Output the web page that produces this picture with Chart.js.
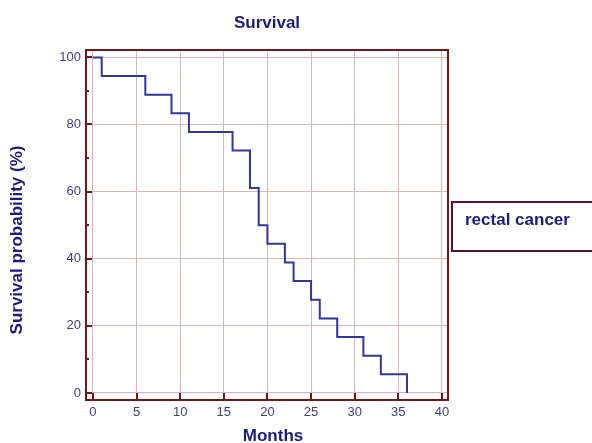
<!DOCTYPE html>
<html>
<head>
<meta charset="utf-8">
<script src="https://cdn.jsdelivr.net/npm/chart.js@4.4.1/dist/chart.umd.min.js"></script>
<style>
    html, body { margin: 0; padding: 0; background: #ffffff; }
    #wrap { width: 592px; height: 443px; position: relative; }
</style>
</head>
<body>
<div id="wrap"><canvas id="chart"></canvas></div>
<script>
// Kaplan-Meier steps
const months = [0, 1, 6, 9, 11, 16, 18, 19, 20, 22, 23, 25, 26, 28, 31, 33, 36];
const survival = [100, 94.44, 88.89, 83.33, 77.78, 72.22, 61.11, 50, 44.44, 38.89, 33.33, 27.78, 22.22, 16.67, 11.11, 5.56, 0];

const xTicks = [0, 5, 10, 15, 20, 25, 30, 35, 40];
const yTicks = [0, 20, 40, 60, 80, 100];
const yMinorTicks = [10, 30, 50, 70, 90];

const chartTitle = 'Survival';
const xTitle = 'Months';
const yTitle = 'Survival probability (%)';
const legendLabel = 'rectal cancer';

const FONT = 'Arial, "Liberation Sans", sans-serif';
const navy = '#1c1c80';
const frameColor = '#7b1416';
const gridColor = '#d9b5b5';

// Frame, inward ticks, titles and the legend box
const decorPlugin = {
    id: 'decor',
    afterDraw(chart) {
        const ctx = chart.ctx;
        const area = chart.chartArea;
        const xs = chart.scales.x;
        const ys = chart.scales.y;
        ctx.save();

        // inward tick marks
        ctx.strokeStyle = frameColor;
        ctx.lineWidth = 2;
        ctx.beginPath();
        xTicks.forEach(v => {
            const px = Math.round(xs.getPixelForValue(v));
            ctx.moveTo(px, area.bottom);
            ctx.lineTo(px, area.bottom - 7);
        });
        yTicks.forEach(v => {
            const py = Math.round(ys.getPixelForValue(v));
            ctx.moveTo(area.left, py);
            ctx.lineTo(area.left + 6, py);
        });
        yMinorTicks.forEach(v => {
            const py = Math.round(ys.getPixelForValue(v));
            ctx.moveTo(area.left, py);
            ctx.lineTo(area.left + 3, py);
        });
        ctx.stroke();

        // plot frame
        ctx.strokeRect(area.left, area.top, area.right - area.left, area.bottom - area.top);

        // texts
        ctx.fillStyle = navy;
        ctx.font = 'bold 17px ' + FONT;
        ctx.textAlign = 'center';
        ctx.textBaseline = 'alphabetic';
        ctx.fillText(chartTitle, (area.left + area.right) / 2, 28);
        ctx.fillText(xTitle, 273, 441);

        ctx.save();
        ctx.translate(22, 240);
        ctx.rotate(-Math.PI / 2);
        ctx.fillText(yTitle, 0, 0);
        ctx.restore();

        // legend box
        ctx.strokeStyle = '#5c1030';
        ctx.lineWidth = 2;
        ctx.strokeRect(452, 202, 150, 49);
        ctx.textAlign = 'left';
        ctx.fillText(legendLabel, 465, 225);

        ctx.restore();
    }
};

new Chart(document.getElementById('chart').getContext('2d'), {
    type: 'line',
    data: {
        datasets: [{
            label: legendLabel,
            data: months.map((m, i) => ({ x: m, y: survival[i] })),
            stepped: true,
            borderColor: '#3035a0',
            borderWidth: 2,
            pointRadius: 0,
            fill: false
        }]
    },
    options: {
        responsive: true,
        maintainAspectRatio: false,
        animation: false,
        layout: {
            padding: { left: 0, top: 50, right: 144, bottom: 0 }
        },
        plugins: {
            legend: { display: false },
            title: { display: false },
            tooltip: { enabled: false }
        },
        scales: {
            x: {
                type: 'linear',
                min: -0.8,
                max: 40.7,
                afterBuildTicks: scale => { scale.ticks = xTicks.map(v => ({ value: v })); },
                afterFit: scale => { scale.height = 43; },
                ticks: {
                    color: '#3d3d7d',
                    font: { family: FONT, size: 13 },
                    padding: 5,
                    maxRotation: 0
                },
                grid: { color: gridColor, drawTicks: false },
                border: { display: false }
            },
            y: {
                type: 'linear',
                min: -2.1,
                max: 102.2,
                afterBuildTicks: scale => { scale.ticks = yTicks.map(v => ({ value: v })); },
                afterFit: scale => { scale.width = 86; },
                ticks: {
                    color: '#3d3d7d',
                    font: { family: FONT, size: 13 },
                    padding: 5
                },
                grid: { color: gridColor, drawTicks: false },
                border: { display: false }
            }
        }
    },
    plugins: [decorPlugin]
});
</script>
</body>
</html>
